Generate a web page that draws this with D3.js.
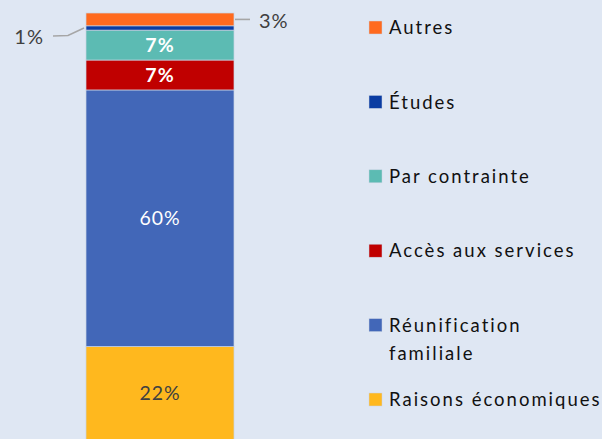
<!DOCTYPE html>
<html><head><meta charset="utf-8">
<script src="https://cdn.jsdelivr.net/npm/d3@7"></script>
<style>
html,body{margin:0;padding:0;background:#DFE7F3;}
svg{display:block;}
text{font-family:Lato,"Open Sans",sans-serif;}
</style></head>
<body><svg id="c" width="602" height="439"></svg>
<script>
// bottom to top
const categories = ["Raisons économiques","Réunification familiale","Accès aux services","Par contrainte","Études","Autres"];
const values = [22, 60, 7, 7, 1, 3];
const labels = ["22%","60%","7%","7%","1%","3%"];
const colors = ["#FFB81E","#4267B8","#C00000","#5CBBB3","#0A3CA2","#FF6A1E"];
const labelColors = ["#404040","#ffffff","#ffffff","#ffffff","#404040","#404040"];
const legendLines = [["Raisons économiques"],["Réunification","familiale"],["Accès aux services"],["Par contrainte"],["Études"],["Autres"]];

const svg = d3.select("#c");
const W = 602, H = 439;
svg.append("rect").attr("width",W).attr("height",H).attr("fill","#DFE7F3");

const y = d3.scaleLinear().domain([0,100]).range([440.5,13]);
const x = d3.scaleBand().domain(["bar"]).range([86,234]).padding(0);

let cum = 0;
const segs = values.map((v,i)=>{const s={i,v,y0:cum,y1:cum+v}; cum+=v; return s;});

const g = svg.append("g");
g.selectAll("rect.seg").data(segs).join("rect")
  .attr("class","seg")
  .attr("x",x("bar")).attr("width",x.bandwidth())
  .attr("y",d=>y(d.y1)).attr("height",d=>y(d.y0)-y(d.y1))
  .attr("fill",d=>colors[d.i])
  .attr("stroke","#C9D3E3").attr("stroke-width",0.7);

// inside labels
const inside = segs.filter(d=>d.v>=5);
g.selectAll("text.in").data(inside).join("text")
  .attr("class","in")
  .attr("x",x("bar")+x.bandwidth()/2)
  .attr("y",d=>(y(d.y0)+y(d.y1))/2)
  .attr("dy","0.36em")
  .attr("text-anchor","middle")
  .attr("font-size",19.5)
  .attr("font-weight",d=>d.v<10?"bold":"normal")
  .attr("letter-spacing",1)
  .attr("fill",d=>labelColors[d.i])
  .text(d=>labels[d.i]);

// outside labels with leader lines
const etu = segs[4], aut = segs[5];
const ey = (y(etu.y0)+y(etu.y1))/2, ay = (y(aut.y0)+y(aut.y1))/2;
const x0 = x("bar"), x1 = x("bar")+x.bandwidth();
g.append("path")
  .attr("d",`M${x0-2},${ey} L${x0-18},${ey+7.5} L${x0-33},${ey+8}`)
  .attr("fill","none").attr("stroke","#A6A6A6").attr("stroke-width",1.6);
g.append("text").attr("x",x0-42).attr("y",ey+8.5).attr("dy","0.36em")
  .attr("text-anchor","end").attr("font-size",20).attr("fill","#404040")
  .attr("letter-spacing",1).text(labels[4]);
g.append("path")
  .attr("d",`M${x1+1},${ay} L${x1+16},${ay}`)
  .attr("fill","none").attr("stroke","#A6A6A6").attr("stroke-width",1.6);
g.append("text").attr("x",x1+25).attr("y",ay+1).attr("dy","0.36em")
  .attr("text-anchor","start").attr("font-size",20).attr("fill","#404040")
  .attr("letter-spacing",1).text(labels[5]);

// legend (top: Autres ... bottom: Raisons)
const ly = d3.scalePoint().domain(categories.slice().reverse()).range([27.5,399.5]);
const leg = svg.append("g");
categories.forEach((c,i)=>{
  const cy = ly(c);
  leg.append("rect").attr("x",369).attr("y",cy-6.5).attr("width",13).attr("height",13)
    .attr("fill",colors[i]).attr("stroke","#C9D3E3").attr("stroke-width",0.5);
  legendLines[i].forEach((t,k)=>{
    leg.append("text").attr("x",389).attr("y",cy+k*28.5).attr("dy","0.36em")
      .attr("font-size",18.5).attr("fill","#111111").attr("letter-spacing",2)
      .text(t);
  });
});
</script></body></html>
